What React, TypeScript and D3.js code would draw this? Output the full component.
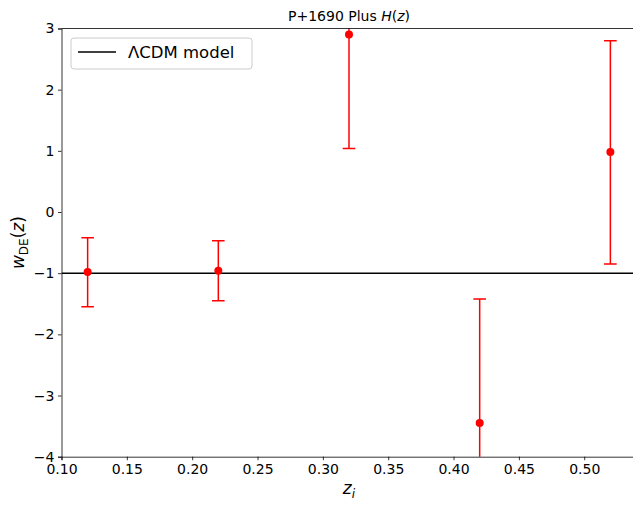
import { useEffect, useRef } from 'react';
import * as d3 from 'd3';

// redshift bins and reconstructed w_DE values
const zBins = [0.12, 0.22, 0.32, 0.42, 0.52];
const wValues = [-0.98, -0.96, 2.9, -3.45, 0.98];
const wUpper = [-0.42, -0.47, 4.76, -1.42, 2.8];
const wLower = [-1.55, -1.45, 1.04, -5.48, -0.85];

const xTicks = [0.1, 0.15, 0.2, 0.25, 0.3, 0.35, 0.4, 0.45, 0.5];
const yTicks = [-4, -3, -2, -1, 0, 1, 2, 3];
const lcdmValue = -1;

const W = 633;
const H = 506;

export default function App() {
    const svgRef = useRef<SVGSVGElement>(null);

    useEffect(() => {
        if (!svgRef.current) return;
        const svg = d3.select(svgRef.current);
        svg.selectAll('*').remove();

        const margin = { top: 28.5, right: -3.5, bottom: 49.3, left: 61.5 };
        const width = W - margin.left - margin.right;
        const height = H - margin.top - margin.bottom;
        const font = 'DejaVu Sans, sans-serif';

        const x = d3.scaleLinear().domain([0.1, 0.54]).range([0, width]);
        const y = d3.scaleLinear().domain([-4, 3]).range([height, 0]);

        svg.append('defs').append('clipPath').attr('id', 'plot-clip')
            .append('rect').attr('x', 0).attr('y', 0).attr('width', width).attr('height', height);

        const g = svg.append('g')
            .attr('transform', `translate(${margin.left},${margin.top})`);

        // LCDM line
        const plot = g.append('g').attr('clip-path', 'url(#plot-clip)');
        plot.append('line')
            .attr('x1', 0).attr('x2', width)
            .attr('y1', y(lcdmValue)).attr('y2', y(lcdmValue))
            .attr('stroke', '#000').attr('stroke-width', 1.5);

        // error bars
        const cap = 6.3;
        zBins.forEach((z, i) => {
            const cx = x(z);
            plot.append('line')
                .attr('x1', cx).attr('x2', cx)
                .attr('y1', y(wLower[i])).attr('y2', y(wUpper[i]))
                .attr('stroke', 'red').attr('stroke-width', 1.5);
            [wLower[i], wUpper[i]].forEach(v => {
                plot.append('line')
                    .attr('x1', cx - cap).attr('x2', cx + cap)
                    .attr('y1', y(v)).attr('y2', y(v))
                    .attr('stroke', 'red').attr('stroke-width', 1.5);
            });
        });

        g.selectAll('.dot')
            .data(zBins)
            .enter().append('circle')
            .attr('class', 'dot')
            .attr('cx', d => x(d))
            .attr('cy', (d, i) => y(wValues[i]))
            .attr('r', 4)
            .attr('fill', 'red');

        // axes
        const xAxis = g.append('g')
            .attr('transform', `translate(0,${height})`)
            .call(d3.axisBottom(x).tickValues(xTicks).tickFormat(d3.format('.2f')).tickSizeOuter(0).tickSize(3.5).tickPadding(3.5));
        const yAxis = g.append('g')
            .call(d3.axisLeft(y).tickValues(yTicks).tickFormat(d => (d < 0 ? '\u2212' + Math.abs(+d) : String(d))).tickSizeOuter(0).tickSize(3.5).tickPadding(3.5));
        [xAxis, yAxis].forEach(a => {
            a.select('.domain').attr('stroke', '#000').attr('stroke-width', 0.8);
            a.selectAll('.tick line').attr('stroke', '#000').attr('stroke-width', 0.8);
            a.selectAll('.tick text').attr('fill', '#000').style('font-family', font).style('font-size', '14px');
        });
        g.append('line')
            .attr('x1', 0).attr('x2', width).attr('y1', 0).attr('y2', 0)
            .attr('stroke', '#000').attr('stroke-width', 0.8);

        // title
        const title = g.append('text')
            .attr('x', width / 2).attr('y', -8)
            .attr('text-anchor', 'middle')
            .style('font-family', font).style('font-size', '14px')
            .text('P+1690 Plus ');
        title.append('tspan').style('font-style', 'italic').text('H');
        title.append('tspan').text('(');
        title.append('tspan').style('font-style', 'italic').text('z');
        title.append('tspan').text(')');

        // axis labels
        const ylab = svg.append('text')
            .attr('transform', `translate(24,${margin.top + height / 2}) rotate(-90)`)
            .attr('text-anchor', 'middle')
            .style('font-family', font).style('font-size', '17px');
        ylab.append('tspan').style('font-style', 'italic').text('w');
        ylab.append('tspan').attr('dy', 4).style('font-size', '12px').text('DE');
        ylab.append('tspan').attr('dy', -4).text('(');
        ylab.append('tspan').style('font-style', 'italic').text('z');
        ylab.append('tspan').text(')');

        const xlab = svg.append('text')
            .attr('x', margin.left + width / 2).attr('y', 494)
            .attr('text-anchor', 'middle')
            .style('font-family', font).style('font-size', '17px');
        xlab.append('tspan').style('font-style', 'italic').text('z');
        xlab.append('tspan').attr('dy', 4).style('font-style', 'italic').style('font-size', '12px').text('i');

        // legend
        const legend = g.append('g').attr('transform', 'translate(9.5,9.5)');
        legend.append('rect')
            .attr('width', 181).attr('height', 31).attr('rx', 3)
            .attr('fill', '#fff').attr('fill-opacity', 0.8)
            .attr('stroke', '#ccc').attr('stroke-width', 1);
        legend.append('line')
            .attr('x1', 7).attr('x2', 45).attr('y1', 14).attr('y2', 14)
            .attr('stroke', '#000').attr('stroke-width', 1.5);
        legend.append('text')
            .attr('x', 57).attr('y', 20)
            .style('font-family', font).style('font-size', '16.5px')
            .text('\u039bCDM model');
    }, []);

    return (
        <svg ref={svgRef} width={W} height={H}
            style={{ position: 'absolute', left: 0, top: 0, background: '#fff' }} />
    );
}
